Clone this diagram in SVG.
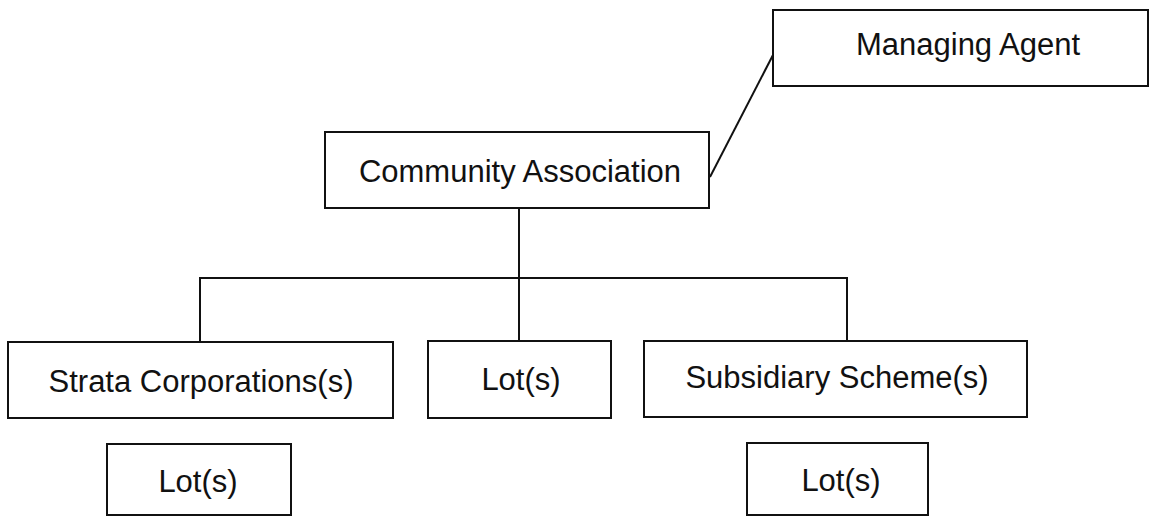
<svg xmlns="http://www.w3.org/2000/svg" width="1151" height="518" viewBox="0 0 1151 518">
<style>
.box{fill:#fff;stroke:#111;stroke-width:2}
.lbl{font-family:"Liberation Sans",Arial,sans-serif;font-size:31px;fill:#111;text-anchor:middle}
.conn{fill:none;stroke:#111;stroke-width:2}
</style>
<rect width="1151" height="518" fill="#fff"/>
<g id="connectors">
<line class="conn" x1="710" y1="177" x2="773" y2="55"/>
<line class="conn" x1="519" y1="208" x2="519" y2="342"/>
<polyline class="conn" points="200,342 200,278 847,278 847,341"/>
</g>
<g id="managing-agent">
<rect class="box" x="773" y="10" width="375" height="76"/>
<text class="lbl" x="968" y="55">Managing Agent</text>
</g>
<g id="community-association">
<rect class="box" x="325" y="132" width="384" height="76"/>
<text class="lbl" x="520" y="182">Community Association</text>
</g>
<g id="strata-corporations">
<rect class="box" x="8" y="342" width="385" height="76"/>
<text class="lbl" x="201" y="392">Strata Corporations(s)</text>
</g>
<g id="lots-middle">
<rect class="box" x="428" y="341" width="183" height="77"/>
<text class="lbl" x="521" y="390">Lot(s)</text>
</g>
<g id="subsidiary-scheme">
<rect class="box" x="644" y="341" width="383" height="76"/>
<text class="lbl" x="837" y="388">Subsidiary Scheme(s)</text>
</g>
<g id="lots-strata">
<rect class="box" x="107" y="444" width="184" height="71"/>
<text class="lbl" x="198" y="492">Lot(s)</text>
</g>
<g id="lots-subsidiary">
<rect class="box" x="747" y="443" width="181" height="72"/>
<text class="lbl" x="841" y="491">Lot(s)</text>
</g>
</svg>
